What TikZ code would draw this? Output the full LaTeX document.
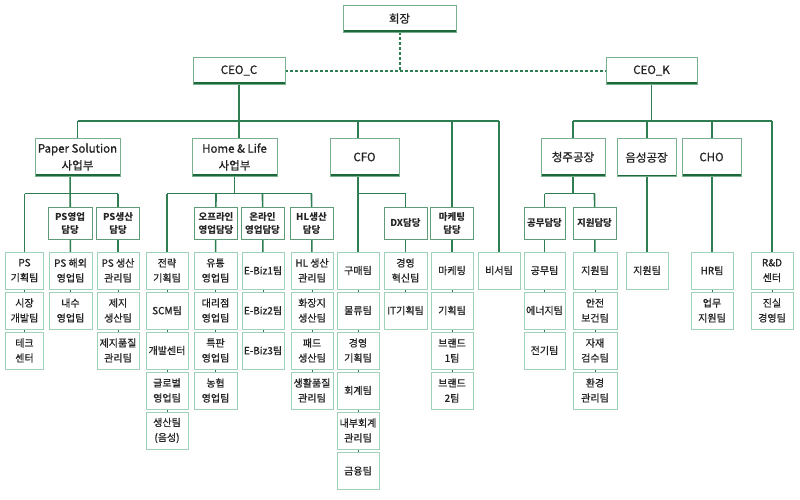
\documentclass[tikz,border=0pt]{standalone}
\usepackage{fontspec}
\setmainfont{Noto Sans CJK KR}[UprightFeatures={RawFeature={embolden=0.8}}]
\usepackage{tikz}
\usetikzlibrary{shadows}
\pgfdeclarelayer{bg}
\pgfsetlayers{bg,main}

\definecolor{linegreen}{RGB}{47,125,82}
\definecolor{headline}{RGB}{120,175,140}
\definecolor{headbar}{RGB}{28,105,60}
\definecolor{subline}{RGB}{95,155,118}
\definecolor{teamline}{RGB}{160,210,186}
\definecolor{textgray}{RGB}{35,35,35}

\begin{document}
\begin{tikzpicture}[x=1pt,y=-1pt]

\tikzset{head/.style = {shape=rectangle,draw=headline,fill=white,text=textgray,minimum height=27pt,inner sep=1pt,align=center,
  font=\fontsize{11.5}{17}\selectfont,
  path picture={\draw[headbar,line width=4pt] (path picture bounding box.south west) -- (path picture bounding box.south east);}}}
\tikzset{unit/.style = {head,minimum height=38pt}}
\tikzset{desk/.style = {shape=rectangle,draw=subline,line width=0.8pt,fill=white,text=textgray,minimum width=43pt,minimum height=32pt,inner sep=1pt,align=center,
  font=\fontsize{9.5}{13}\selectfont\bfseries}}
\tikzset{team/.style = {shape=rectangle,draw=teamline,fill=white,text=textgray,minimum width=42pt,minimum height=37pt,inner sep=1pt,align=center,
  font=\fontsize{10}{15}\selectfont,
  drop shadow={shadow xshift=0.7pt,shadow yshift=-0.7pt,fill=teamline!60,opacity=1}}}
\tikzset{link/.style = {draw=linegreen,line width=1.6pt}}
\tikzset{tick/.style = {draw=linegreen,line width=0.9pt}}
\tikzset{dotline/.style = {draw=linegreen,line width=2pt,dash pattern=on 3pt off 2pt}}

\useasboundingbox (0,0) rectangle (800,499);

% heads
\node[head, minimum width=113pt] (boss) at (399.5,18.5) {회장};
\node[head, minimum width=92pt] (ceoc) at (239,70.5) {CEO\_C};
\node[head, minimum width=91pt] (ceok) at (651.5,70.5) {CEO\_K};
% units
\node[unit, minimum width=85pt] (ps) at (77.5,157) {Paper Solution\\사업부};
\node[unit, minimum width=85pt] (hl) at (234.5,157) {Home \& Life\\사업부};
\node[unit, minimum width=69pt] (cfo) at (364.5,157) {CFO};
\node[unit, minimum width=64pt] (cj) at (573,157) {청주공장};
\node[unit, minimum width=59pt] (es) at (646.5,157.5) {음성공장};
\node[unit, minimum width=59pt] (cho) at (711.5,157) {CHO};
% desks
\node[desk, minimum width=44pt] (psa) at (70,223) {PS영업\\담당};
\node[desk] (psb) at (118,223) {PS생산\\담당};
\node[desk] (hla) at (216,223) {오프라인\\영업담당};
\node[desk] (hlb) at (262.5,223) {온라인\\영업담당};
\node[desk] (hlc) at (311.5,223) {HL생산\\담당};
\node[desk] (dx) at (405.5,223) {DX담당};
\node[desk] (mk) at (452,223) {마케팅\\담당};
\node[desk, minimum width=41pt] (gm) at (544.5,223) {공무담당};
\node[desk] (jw) at (594.5,223) {지원담당};
% teams
\node[team, minimum width=38pt] (a1) at (24.5,270.5) {PS\\기획팀};
\node[team, minimum width=38pt] (a2) at (24.5,310.5) {시장\\개발팀};
\node[team, minimum width=38pt] (a3) at (24.5,350.5) {테크\\센터};
\node[team, minimum width=43pt] (b1) at (70.5,270.5) {PS 해외\\영업팀};
\node[team, minimum width=43pt] (b2) at (70.5,310.5) {내수\\영업팀};
\node[team] (c1) at (118,270.5) {PS 생산\\관리팀};
\node[team] (c2) at (118,310.5) {제지\\생산팀};
\node[team] (c3) at (118,350.5) {제지품질\\관리팀};
\node[team] (d1) at (167,270.5) {전략\\기획팀};
\node[team] (d2) at (167,310.5) {SCM팀};
\node[team] (d3) at (167,350.5) {개발센터};
\node[team] (d4) at (167,390.5) {글로벌\\영업팀};
\node[team] (d5) at (167,430.5) {생산팀\\(음성)};
\node[team, minimum width=43pt] (e1) at (215.5,270.5) {유통\\영업팀};
\node[team, minimum width=43pt] (e2) at (215.5,310.5) {대리점\\영업팀};
\node[team, minimum width=43pt] (e3) at (215.5,350.5) {특판\\영업팀};
\node[team, minimum width=43pt] (e4) at (215.5,390.5) {농협\\영업팀};
\node[team] (f1) at (263,270.5) {E-Biz1팀};
\node[team] (f2) at (263,310.5) {E-Biz2팀};
\node[team] (f3) at (263,350.5) {E-Biz3팀};
\node[team] (g1) at (312,270.5) {HL 생산\\관리팀};
\node[team] (g2) at (312,310.5) {화장지\\생산팀};
\node[team] (g3) at (312,350.5) {패드\\생산팀};
\node[team] (g4) at (312,390.5) {생활품질\\관리팀};
\node[team] (h1) at (358,270.5) {구매팀};
\node[team] (h2) at (358,310.5) {물류팀};
\node[team] (h3) at (358,350.5) {경영\\기획팀};
\node[team] (h4) at (358,390.5) {회계팀};
\node[team] (h5) at (358,430.5) {내부회계\\관리팀};
\node[team] (h6) at (358,471) {금융팀};
\node[team, minimum width=43pt] (i1) at (405.5,270.5) {경영\\혁신팀};
\node[team, minimum width=43pt] (i2) at (405.5,310.5) {IT기획팀};
\node[team] (j1) at (452,270.5) {마케팅};
\node[team] (j2) at (452,310.5) {기획팀};
\node[team] (j3) at (452,350.5) {브랜드\\1팀};
\node[team] (j4) at (452,390.5) {브랜드\\2팀};
\node[team] (k1) at (499,270.5) {비서팀};
\node[team, minimum width=41pt] (l1) at (544.5,270.5) {공무팀};
\node[team, minimum width=41pt] (l2) at (544.5,310.5) {에너지팀};
\node[team, minimum width=41pt] (l3) at (544.5,350.5) {전기팀};
\node[team, minimum width=44pt] (m1) at (595,270.5) {지원팀};
\node[team, minimum width=44pt] (m2) at (595,310.5) {안전\\보건팀};
\node[team, minimum width=44pt] (m3) at (595,350.5) {자재\\검수팀};
\node[team, minimum width=44pt] (m4) at (595,390.5) {환경\\관리팀};
\node[team] (n1) at (647,270.5) {지원팀};
\node[team] (o1) at (712,270.5) {HR팀};
\node[team] (o2) at (712,310.5) {업무\\지원팀};
\node[team] (p1) at (772,270.5) {R\&D\\센터};
\node[team] (p2) at (772,310.5) {진실\\경영팀};

\coordinate (top) at (0,121);
\coordinate (sub) at (0,193.5);

%edges
\begin{pgfonlayer}{bg}
\draw[dotline] (boss) |- (ceoc);
\draw[dotline] (boss |- ceoc) -- (ceok);
% CEO_C
\draw[link] (ceoc) -- (ceoc |- hl);
\draw[link] (top -| ps) -- (top -| k1);
\draw[link] (top -| ps) -- (ps);
\draw[link] (top -| h1) -- (h1);
\draw[link] (top -| mk) -- (mk);
\draw[link] (mk) -- (j1);
\draw[link] (top -| k1) -- (k1);
% CEO_K
\draw[link] (ceok) -- (ceok |- top);
\draw[link] (top -| cj) -- (top -| p1);
\draw[link] (top -| cj) -- (cj);
\draw[link] (top -| n1) -- (n1);
\draw[link] (top -| o1) -- (o1);
\draw[link] (top -| p1) -- (p1);
% Paper Solution
\draw[link] (psa |- ps) -- (b1);
\draw[link] (sub -| a1) -- (sub -| psb);
\draw[link] (sub -| a1) -- (a1);
\draw[link] (sub -| psb) -- (c1);
% Home & Life
\draw[link] (hl) -- (hl |- sub);
\draw[link] (sub -| d1) -- (sub -| hlc);
\draw[link] (sub -| d1) -- (d1);
\draw[link] (sub -| hla) -- (e1);
\draw[link] (sub -| hlb) -- (f1);
\draw[link] (sub -| hlc) -- (g1);
% CFO
\draw[link] (sub -| h1) -- (sub -| dx);
\draw[link] (sub -| dx) -- (i1);
% factories
\draw[link] (cj) -- (cj |- sub);
\draw[link] (sub -| gm) -- (sub -| jw);
\draw[link] (sub -| gm) -- (l1);
\draw[link] (sub -| jw) -- (m1);
% stacks
\draw[tick] (a1) -- (a2) -- (a3);
\draw[tick] (b1) -- (b2);
\draw[tick] (c1) -- (c2) -- (c3);
\draw[tick] (d1) -- (d2) -- (d3) -- (d4) -- (d5);
\draw[tick] (e1) -- (e2) -- (e3) -- (e4);
\draw[tick] (f1) -- (f2) -- (f3);
\draw[tick] (g1) -- (g2) -- (g3) -- (g4);
\draw[tick] (h1) -- (h2) -- (h3) -- (h4) -- (h5) -- (h6);
\draw[tick] (i1) -- (i2);
\draw[tick] (j1) -- (j2) -- (j3) -- (j4);
\draw[tick] (l1) -- (l2) -- (l3);
\draw[tick] (m1) -- (m2) -- (m3) -- (m4);
\draw[tick] (o1) -- (o2);
\draw[tick] (p1) -- (p2);
\end{pgfonlayer}
\end{tikzpicture}
\end{document}
